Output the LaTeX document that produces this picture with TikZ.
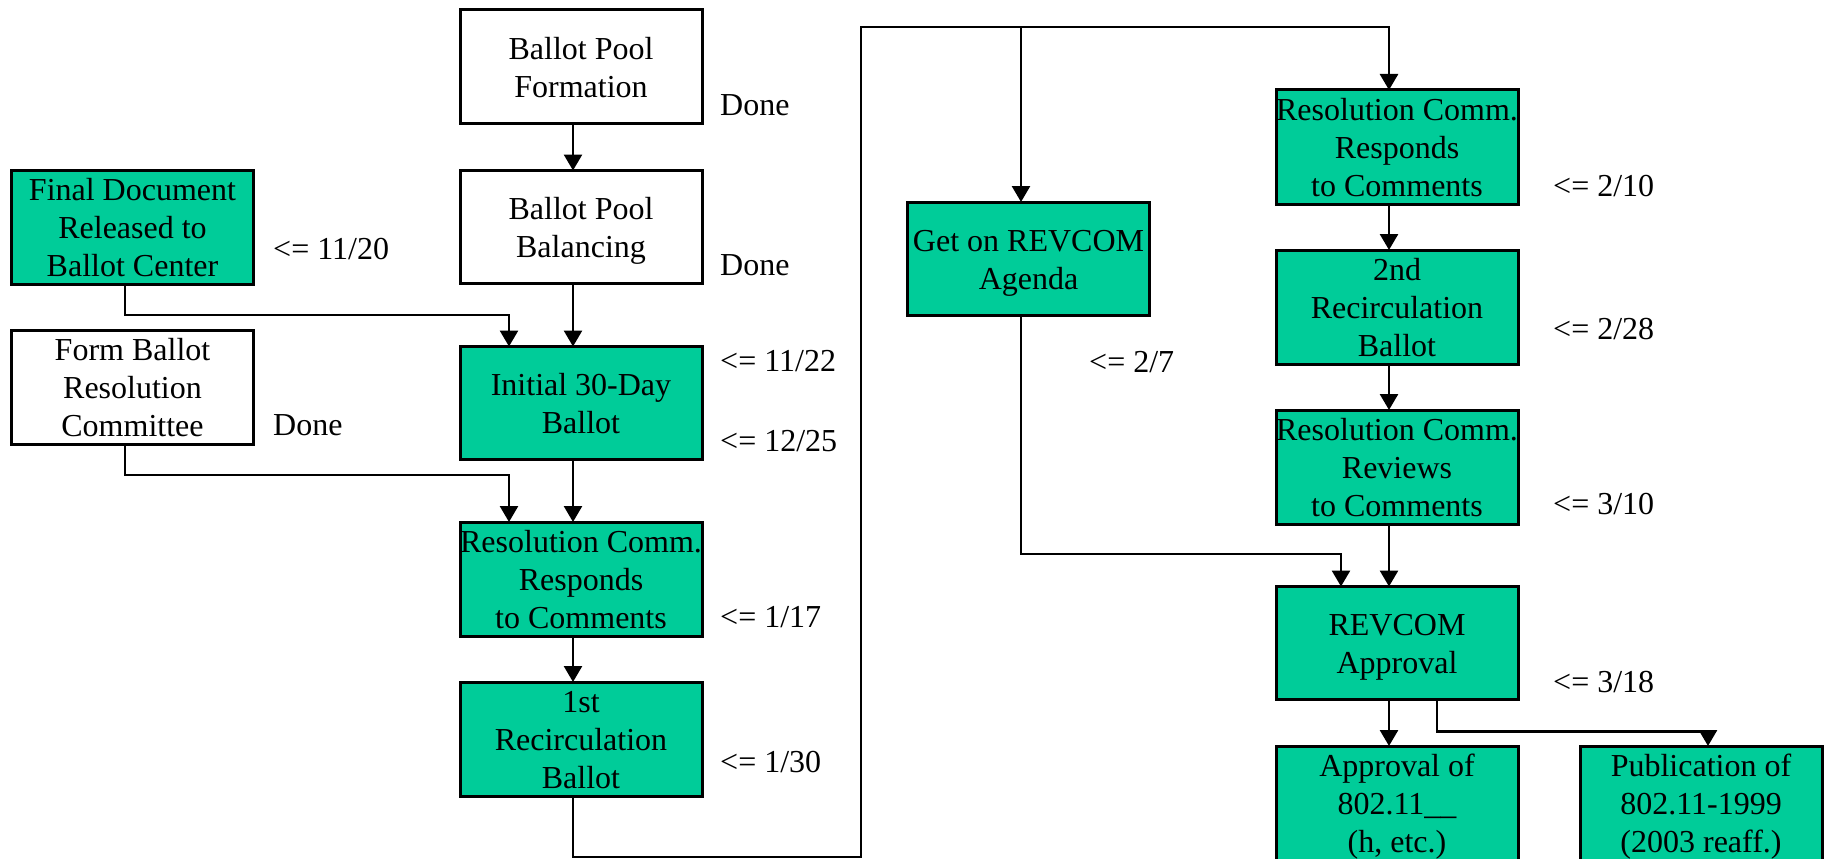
\documentclass[tikz,border=0pt]{standalone}
\usepackage{fontspec}
\setmainfont{Liberation Serif}
\usetikzlibrary{arrows.meta}
\definecolor{boxgreen}{RGB}{0,204,153}
\newcommand{\bt}[1]{\makebox[0pt]{\raisebox{-4pt}[\height][\depth]{\begin{tabular}{@{}c@{}}#1\end{tabular}}}}
\tikzset{
  stepbox/.style={draw=black, line width=3pt, minimum width=242pt, minimum height=113pt, inner sep=0pt, outer sep=0pt, font=\fontsize{32}{38}\selectfont},
  greenbox/.style={stepbox, fill=boxgreen},
  whitebox/.style={stepbox, fill=white},
  datelabel/.style={anchor=base west, inner sep=0pt, font=\fontsize{32}{38}\selectfont},
  conn/.style={draw=black, line width=2.7pt},
  arr/.style={conn, -{Triangle[width=18pt 0,length=16pt 0]}}
}
\begin{document}
\begin{tikzpicture}[x=1pt,y=-1pt]
\useasboundingbox (0,0) rectangle (1824,859);
% left column
\node[greenbox] (fd) at (132.5,227) {\bt{Final Document\\Released to\\Ballot Center}};
\node[whitebox] (fb) at (132.5,387) {\bt{Form Ballot\\Resolution\\Committee}};
% center column
\node[whitebox] (bpf) at (581,66.5) {\bt{Ballot Pool\\Formation}};
\node[whitebox] (bpb) at (581,227) {\bt{Ballot Pool\\Balancing}};
\node[greenbox] (init) at (581,403) {\bt{Initial 30-Day\\Ballot}};
\node[greenbox] (rc1) at (581,579) {\bt{Resolution Comm.\\Responds\\to Comments}};
\node[greenbox] (rec1) at (581,739) {\bt{1st\\Recirculation\\Ballot}};
% middle
\node[greenbox] (gor) at (1028.5,258.5) {\bt{Get on REVCOM\\Agenda}};
% right column
\node[greenbox] (rc2) at (1397,147) {\bt{Resolution Comm.\\Responds\\to Comments}};
\node[greenbox] (rec2) at (1397,307) {\bt{2nd\\Recirculation\\Ballot}};
\node[greenbox] (rv) at (1397,467) {\bt{Resolution Comm.\\Reviews\\to Comments}};
\node[greenbox] (rev) at (1397,643) {\bt{REVCOM\\Approval}};
\node[greenbox] (appr) at (1397,803) {\bt{Approval of\\802.11\_\_\\(h, etc.)}};
\node[greenbox] (pub) at (1701,803) {\bt{Publication of\\802.11-1999\\(2003 reaff.)}};
% labels
\node[datelabel] (l1) at (273,259) {<= 11/20};
\node[datelabel] (l2) at (273,435) {Done};
\node[datelabel] (l3) at (720,115) {Done};
\node[datelabel] (l4) at (720,275) {Done};
\node[datelabel] (l5) at (720,371) {<= 11/22};
\node[datelabel] (l6) at (720,451) {<= 12/25};
\node[datelabel] (l7) at (720,627) {<= 1/17};
\node[datelabel] (l8) at (720,772) {<= 1/30};
\node[datelabel] (l9) at (1089,372) {<= 2/7};
\node[datelabel] (l10) at (1553,196) {<= 2/10};
\node[datelabel] (l11) at (1553,339) {<= 2/28};
\node[datelabel] (l12) at (1553,514) {<= 3/10};
\node[datelabel] (l13) at (1553,692) {<= 3/18};
% helper coordinates
\coordinate (bl) at (861,857);
\coordinate (tl) at (861,27);
\coordinate (tb) at (1021,27);
% connectors
\draw[arr] ([xshift=-8pt]bpf.south) -- ([xshift=-8pt]bpb.north);
\draw[arr] ([xshift=-8pt]bpb.south) -- ([xshift=-8pt]init.north);
\draw[arr] ([xshift=-8pt]init.south) -- ([xshift=-8pt]rc1.north);
\draw[arr] ([xshift=-8pt]rc1.south) -- ([xshift=-8pt]rec1.north);
\draw[arr] ([xshift=-7.5pt]fd.south) -- ++(0,31) -| ([xshift=-72pt]init.north);
\draw[arr] ([xshift=-7.5pt]fb.south) -- ++(0,31) -| ([xshift=-72pt]rc1.north);
\draw[arr] ([xshift=-8pt]rec1.south) |- (bl) -- (tl) -| ([xshift=-8pt]rc2.north);
\draw[arr] (tb) -- ([xshift=-7.5pt]gor.north);
\draw[arr] ([xshift=-8pt]rc2.south) -- ([xshift=-8pt]rec2.north);
\draw[arr] ([xshift=-8pt]rec2.south) -- ([xshift=-8pt]rv.north);
\draw[arr] ([xshift=-8pt]rv.south) -- ([xshift=-8pt]rev.north);
\draw[arr] ([xshift=-7.5pt]gor.south) -- ++(0,239) -| ([xshift=-56pt]rev.north);
\draw[arr] ([xshift=-8pt]rev.south) -- ([xshift=-8pt]appr.north);
\draw[arr] ([xshift=40pt]rev.south) -- ++(0,32) -| ([xshift=7pt]pub.north);
\end{tikzpicture}
\end{document}
